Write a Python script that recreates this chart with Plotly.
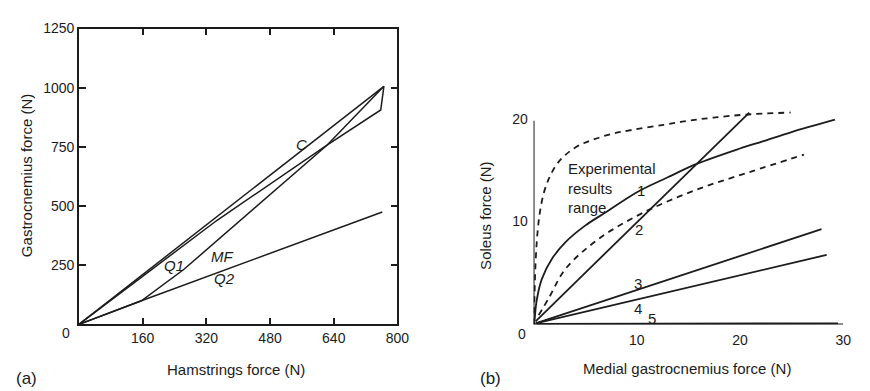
import plotly.graph_objects as go

W, H = 870, 391
FONT = "Liberation Sans, Arial, sans-serif"
INK = "#1c1c1c"

# ---------------- Panel (a) data ----------------
a_x_ticks = [160, 320, 480, 640, 800]
a_y_ticks = [250, 500, 750, 1000, 1250]

c_x = [0, 766]
c_y = [0, 1006]
q1_x = [0, 347, 623, 758, 766]
q1_y = [0, 440, 757, 906, 1006]
mf_x = [0, 157, 264, 623, 766]
mf_y = [0, 100, 233, 757, 1006]
q2_x = [0, 157, 762]
q2_y = [0, 100, 475]

a_label_text = ["C", "Q1", "MF", "Q2"]
a_label_x = [560, 239, 360, 365]
a_label_y = [760, 247, 286, 192]

# ---------------- Panel (b) data ----------------
b_x_ticks = [10, 20, 30]
b_y_ticks = [10, 20]

dash_hi_x = [0.05, 0.1, 0.2, 0.35, 0.6, 1.0, 1.5, 2.2, 3.0, 4.2, 5.6, 7.5, 9.5, 12.6, 15, 17.4, 20.6, 24.9]
dash_hi_y = [0, 3, 6, 8.5, 10.8, 12.8, 14.2, 15.5, 16.4, 17.3, 17.9, 18.5, 18.9, 19.4, 19.8, 20.1, 20.4, 20.6]
dash_lo_x = [0.5, 1.5, 3.1, 6.3, 10.7, 15.8, 20.9, 26.2]
dash_lo_y = [0.9, 2.6, 5.4, 8.3, 10.9, 13.1, 14.8, 16.5]

c1_x = [0.1, 0.3, 0.8, 1.8, 3.1, 5.0, 7.0, 10.1, 13.0, 15.8, 20.0, 22.2, 25.0, 29.2]
c1_y = [0.3, 2.3, 4.4, 6.4, 8.0, 9.6, 10.9, 12.9, 14.3, 15.6, 17.1, 17.8, 18.7, 19.9]
c2_x = [0.2, 20.9]
c2_y = [0.3, 20.6]
c3_x = [0.2, 27.9]
c3_y = [0.1, 9.26]
c4_x = [0.2, 28.4]
c4_y = [0.1, 6.76]
c5_x = [0.3, 29.5]
c5_y = [0.05, 0.1]

b_label_text = ["1", "2", "3", "4", "5"]
b_label_x = [10.4, 10.25, 10.15, 10.1, 11.5]
b_label_y = [13.0, 9.2, 3.95, 1.55, 0.55]

# ---------------- layout geometry (pixels) ----------------
def px(x):
    return x / W

def py(y):
    return 1 - y / H

fig = go.Figure()

def line(x, y, xa, ya, width=1.5, dash=None, shape="linear"):
    fig.add_trace(go.Scatter(x=x, y=y, xaxis=xa, yaxis=ya, mode="lines",
                             line=dict(color=INK, width=width, dash=dash,
                                       shape=shape, smoothing=1.0),
                             hoverinfo="skip", showlegend=False))

for xs, ys in [(c_x, c_y), (q1_x, q1_y), (mf_x, mf_y), (q2_x, q2_y)]:
    line(xs, ys, "x", "y", 1.5)

line(c1_x, c1_y, "x2", "y2", 1.8, shape="spline")
for xs, ys in [(c2_x, c2_y), (c3_x, c3_y), (c4_x, c4_y), (c5_x, c5_y)]:
    line(xs, ys, "x2", "y2", 1.8)
line(dash_hi_x, dash_hi_y, "x2", "y2", 1.8, "6px,5px", shape="spline")
line(dash_lo_x, dash_lo_y, "x2", "y2", 1.8, "6px,5px", shape="spline")

tickfont = dict(family=FONT, size=14, color=INK)

# panel (b) y scale: 0 -> 323px, 10.5 px per unit
b_ymax = 21.5
b_top = 323 - b_ymax * 10.5

fig.update_layout(
    width=W, height=H, margin=dict(l=0, r=0, t=0, b=0),
    paper_bgcolor="white", plot_bgcolor="white",
    font=dict(family=FONT, color=INK, size=14),
    xaxis=dict(domain=[px(80), px(403)], range=[0, 800], anchor="y",
               tickvals=a_x_ticks, ticktext=[str(v) for v in a_x_ticks],
               ticks="inside", ticklen=7, tickwidth=1.5, tickcolor=INK,
               showline=True, linecolor=INK, linewidth=1.5, mirror="ticks",
               showgrid=False, zeroline=False, tickfont=tickfont),
    yaxis=dict(domain=[py(323), py(21)], range=[0, 1250], anchor="x",
               tickvals=a_y_ticks, ticktext=[str(v) for v in a_y_ticks],
               ticks="inside", ticklen=7, tickwidth=1.5, tickcolor=INK,
               showline=True, linecolor=INK, linewidth=1.5, mirror="ticks",
               showgrid=False, zeroline=False, tickfont=tickfont),
    xaxis2=dict(domain=[px(541), px(855)], range=[0, 30], anchor="y2",
                tickvals=b_x_ticks, ticktext=[str(v) for v in b_x_ticks],
                ticks="outside", ticklen=3, tickcolor="rgba(0,0,0,0)",
                showline=False, showgrid=False, zeroline=False,
                tickfont=tickfont),
    yaxis2=dict(domain=[py(323), py(b_top)], range=[0, b_ymax], anchor="x2",
                tickvals=b_y_ticks, ticktext=[str(v) for v in b_y_ticks],
                ticks="outside", ticklen=2, tickcolor="rgba(0,0,0,0)",
                showline=False, showgrid=False, zeroline=False,
                tickfont=tickfont),
)

# axis lines for panel (b)
fig.add_shape(type="line", xref="x2", yref="y2", x0=0, x1=0, y0=0, y1=19.8,
              line=dict(color=INK, width=2))
fig.add_shape(type="line", xref="x2", yref="y2", x0=0, x1=30, y0=0, y1=0,
              line=dict(color=INK, width=2))

ann = []
def text(t, x, y, xref="paper", yref="paper", size=15, angle=0, italic=False,
         xanchor="center", align="center"):
    if italic:
        t = "<i>" + t + "</i>"
    ann.append(dict(text=t, x=x, y=y, xref=xref, yref=yref, showarrow=False,
                    font=dict(family=FONT, size=size, color=INK),
                    textangle=angle, xanchor=xanchor, yanchor="middle",
                    align=align))

# panel (a) texts
text("Hamstrings force (N)", px(239), py(369))
text("Gastrocnemius force (N)", px(27), py(171), angle=-90)
text("0", px(67), py(332), size=14)
text("(a)", px(27), py(378), size=17)
for t, x, y in zip(a_label_text, a_label_x, a_label_y):
    text(t, x, y, "x", "y", italic=True)

# panel (b) texts
text("Medial gastrocnemius force (N)", px(697), py(368))
text("Soleus force (N)", px(492), py(212), angle=-90)
text("0", px(529), py(333), size=14)
text("(b)", px(497), py(378), size=17)
for t, x, y in zip(b_label_text, b_label_x, b_label_y):
    text(t, x, y, "x2", "y2")
text("Experimental<br>results<br>range", 3.1, 13.3, "x2", "y2",
     xanchor="left", align="left")

fig.update_layout(annotations=ann)
fig.write_html("out.html", config={"displayModeBar": False},
               post_script="document.body.style.margin='0';document.body.style.overflow='hidden';")
